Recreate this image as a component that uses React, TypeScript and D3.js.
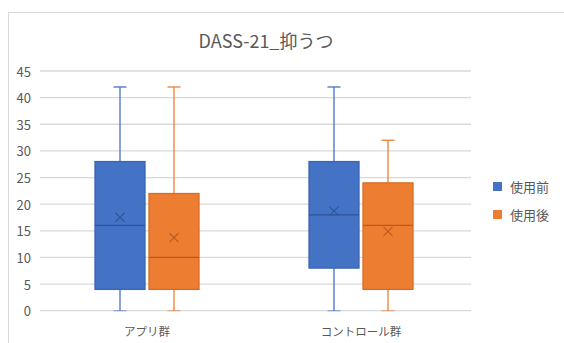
import React from "react";
import * as d3 from "d3";

// Groups along the x axis and the two measurement series
const categories = ["アプリ群", "コントロール群"];
const seriesNames = ["使用前", "使用後"];

// Five-number summaries plus mean, per series, in category order
const minValues = [
  [0, 0],
  [0, 0],
];
const q1Values = [
  [4, 8],
  [4, 4],
];
const medianValues = [
  [16, 18],
  [10, 16],
];
const q3Values = [
  [28, 28],
  [22, 24],
];
const maxValues = [
  [42, 42],
  [42, 32],
];
const meanValues = [
  [17.5, 18.7],
  [13.7, 14.9],
];

const yTicks = [0, 5, 10, 15, 20, 25, 30, 35, 40, 45];
const title = "DASS-21_抑うつ";

const fills = ["#4472C4", "#ED7D31"];
const strokes = ["#3A65B3", "#D96C24"];
const marks = ["#2F5597", "#B95A1E"];

const FONT = "'Noto Sans CJK JP', 'Noto Sans', sans-serif";

export default function App() {
  const width = 564;
  const height = 343;
  const plot = { left: 40, right: 471, top: 71, bottom: 310.7 };

  const y = d3.scaleLinear().domain([0, 45]).range([plot.bottom, plot.top]);
  const x0 = d3
    .scaleBand<string>()
    .domain(categories)
    .range([plot.left, plot.right - 3]);
  const x1 = d3
    .scaleBand<string>()
    .domain(seriesNames)
    .range([-52, 52])
    .paddingInner(0.074);

  const boxes: React.ReactNode[] = [];
  seriesNames.forEach((s, si) => {
    categories.forEach((c, ci) => {
      const bx = (x0(c) ?? 0) + x0.bandwidth() / 2 + (x1(s) ?? 0);
      const bw = x1.bandwidth();
      const cx = bx + bw / 2;
      const capW = 13;
      const yMin = y(minValues[si][ci]);
      const yMax = y(maxValues[si][ci]);
      const yQ1 = y(q1Values[si][ci]);
      const yQ3 = y(q3Values[si][ci]);
      const yMed = y(medianValues[si][ci]);
      const yMean = y(meanValues[si][ci]);
      const m = 4.5;
      boxes.push(
        <g key={`${s}-${c}`}>
          <line x1={cx} x2={cx} y1={yMax} y2={yQ3} stroke={fills[si]} strokeWidth={1.3} />
          <line x1={cx} x2={cx} y1={yQ1} y2={yMin} stroke={fills[si]} strokeWidth={1.3} />
          <line x1={cx - capW / 2} x2={cx + capW / 2} y1={yMax} y2={yMax} stroke={fills[si]} strokeWidth={1.3} />
          <line x1={cx - capW / 2} x2={cx + capW / 2} y1={yMin} y2={yMin} stroke={fills[si]} strokeWidth={1.3} opacity={0.5} />
          <rect
            x={bx}
            y={yQ3}
            width={bw}
            height={yQ1 - yQ3}
            fill={fills[si]}
            stroke={strokes[si]}
            strokeWidth={1.3}
          />
          <line x1={bx} x2={bx + bw} y1={yMed} y2={yMed} stroke={marks[si]} strokeWidth={1.3} />
          <path
            d={`M${cx - m},${yMean - m}L${cx + m},${yMean + m}M${cx - m},${yMean + m}L${cx + m},${yMean - m}`}
            stroke={marks[si]}
            strokeWidth={1.1}
            fill="none"
          />
        </g>
      );
    });
  });

  return (
    <svg
      width={width}
      height={height}
      style={{ position: "absolute", left: 0, top: 0, background: "#fff" }}
      fontFamily={FONT}
    >
      <rect x={0} y={0} width={width} height={height} fill="#fff" />
      <rect x={8.5} y={12.5} width={width} height={height} fill="none" stroke="#D9D9D9" />
      <text x={266} y={40} textAnchor="middle" dominantBaseline="central" fontSize={18} fill="#595959">
        {title}
      </text>
      {yTicks.map((t) => (
        <g key={t}>
          <line x1={plot.left} x2={plot.right} y1={y(t)} y2={y(t)} stroke="#D9D9D9" strokeWidth={1.3} />
          <text x={31} y={y(t)} textAnchor="end" dominantBaseline="central" fontSize={13} fill="#595959">
            {t}
          </text>
        </g>
      ))}
      {boxes}
      {categories.map((c) => (
        <text
          key={c}
          x={(x0(c) ?? 0) + x0.bandwidth() / 2}
          y={331}
          textAnchor="middle"
          dominantBaseline="central"
          fontSize={11.5}
          fill="#595959"
        >
          {c}
        </text>
      ))}
      {seriesNames.map((s, i) => (
        <g key={s} transform={`translate(493, ${186.5 + i * 28})`}>
          <rect x={0} y={-4.5} width={9} height={9} fill={fills[i]} />
          <text x={17} y={0} dominantBaseline="central" fontSize={13} fill="#595959">
            {s}
          </text>
        </g>
      ))}
    </svg>
  );
}
